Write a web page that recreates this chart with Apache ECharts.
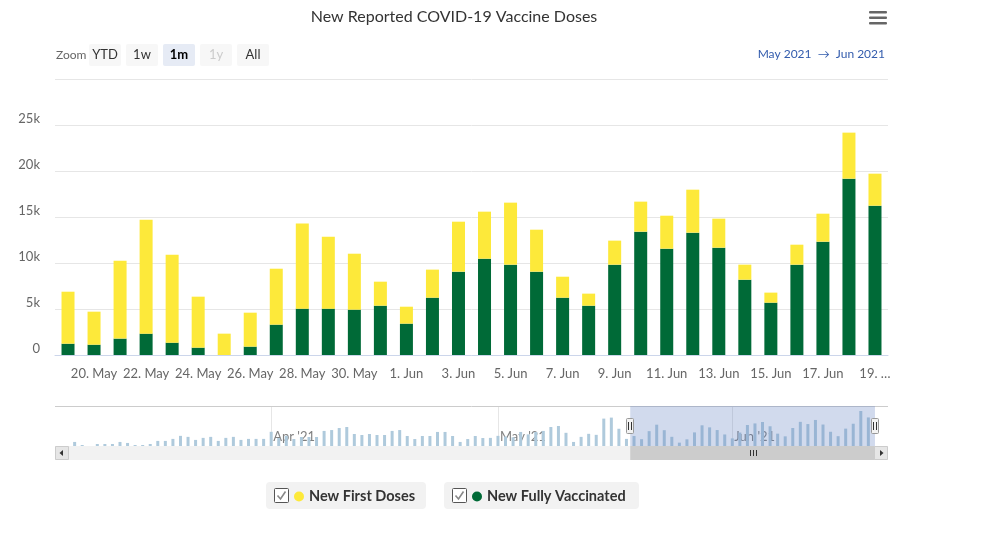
<!DOCTYPE html>
<html>
<head>
<meta charset="utf-8">
<script src="https://cdn.jsdelivr.net/npm/echarts@6/dist/echarts.min.js"></script>
<style>
  html, body { margin: 0; padding: 0; background: #fff; }
  #chart { width: 982px; height: 539px; }
</style>
</head>
<body>
<div id="chart"></div>
<script>
// main chart: one month shown (19 May - 19 Jun 2021)
const dates = [
  '2021-05-19', '2021-05-20', '2021-05-21', '2021-05-22', '2021-05-23', '2021-05-24',
  '2021-05-25', '2021-05-26', '2021-05-27', '2021-05-28', '2021-05-29', '2021-05-30',
  '2021-05-31', '2021-06-01', '2021-06-02', '2021-06-03', '2021-06-04', '2021-06-05',
  '2021-06-06', '2021-06-07', '2021-06-08', '2021-06-09', '2021-06-10', '2021-06-11',
  '2021-06-12', '2021-06-13', '2021-06-14', '2021-06-15', '2021-06-16', '2021-06-17',
  '2021-06-18', '2021-06-19'
];
const newFullyVaccinated = [
  1230, 1120, 1780, 2320, 1340, 800, 0, 910, 3300, 5040, 5040, 4930,
  5360, 3410, 6230, 9060, 10470, 9820, 9060, 6230, 5360, 9820, 13410, 11560,
  13300, 11670, 8190, 5690, 9820, 12320, 19170, 16230
];
const newFirstDoses = [
  5650, 3590, 8470, 12390, 9570, 5540, 2320, 3690, 6080, 9240, 7820, 6080,
  2610, 1840, 3050, 5430, 5110, 6740, 4560, 2280, 1310, 2610, 3260, 3580,
  4670, 3150, 1630, 1090, 2170, 3040, 5000, 3480
];

// navigator: daily totals before the shown month (6 Mar - 18 May 2021)
const navStart = '2021-03-06';
const navEarlierTotals = [
  2800, 700, 0, 1400, 1400, 1400, 2800, 2100, 700, 700, 1400, 3500, 3500,
  4900, 7000, 6300, 4200, 5600, 6300, 3500, 5600, 6300, 4200, 4900, 4900, 4900,
  9800, 5500, 7000, 4800, 6200, 6200, 6200, 10400, 11000, 12400, 13100, 8300,
  7600, 8300, 7600, 7600, 10400, 11000, 6900, 4800, 6900, 6900, 9700, 9700,
  6900, 2800, 4800, 6900, 5500, 5600,
  7000, 6500, 6000, 9700, 8000, 9700, 10400, 13100, 13800, 9100, 2800, 6300,
  8400, 7700, 18900, 19600, 11900, 4900
];

const yTicks = [0, 5000, 10000, 15000, 20000, 25000, 30000];
const months = ['Jan', 'Feb', 'Mar', 'Apr', 'May', 'Jun', 'Jul', 'Aug', 'Sep', 'Oct', 'Nov', 'Dec'];
const rangeButtons = ['YTD', '1w', '1m', '1y', 'All'];

const FONT = 'Lato, "Noto Sans", sans-serif';

function dayStr(d) {
  const m = String(d.getMonth() + 1).padStart(2, '0');
  const day = String(d.getDate()).padStart(2, '0');
  return d.getFullYear() + '-' + m + '-' + day;
}

// navigator series = earlier totals + totals of the shown month
const navData = [];
let cur = new Date(navStart + 'T00:00:00');
navEarlierTotals.forEach(v => {
  navData.push([dayStr(cur), v]);
  cur.setDate(cur.getDate() + 1);
});
dates.forEach((d, i) => {
  navData.push([d, newFullyVaccinated[i] + newFirstDoses[i]]);
});

const everyOther = (idx) => idx % 2 === 1;

const chart = echarts.init(document.getElementById('chart'));

const option = {
  animation: false,
  backgroundColor: '#fff',
  title: {
    text: 'New Reported COVID-19 Vaccine Doses',
    left: 449,
    top: 4,
    textAlign: 'center',
    textStyle: { fontFamily: FONT, fontSize: 16, fontWeight: 'normal', color: '#333' }
  },
  legend: [
    {
      data: ['New First Doses'],
      left: 294, top: 489, padding: 0,
      icon: 'circle', itemWidth: 10, itemHeight: 10,
      textStyle: { fontFamily: FONT, fontSize: 14.5, fontWeight: 'bold', color: '#333' }
    },
    {
      data: ['New Fully Vaccinated'],
      left: 472, top: 489, padding: 0,
      icon: 'circle', itemWidth: 10, itemHeight: 10,
      textStyle: { fontFamily: FONT, fontSize: 14.5, fontWeight: 'bold', color: '#333' }
    }
  ],
  grid: [
    { left: 55, right: 94, top: 79, bottom: 184 },
    { left: 55, right: 94, top: 406, height: 40 }
  ],
  xAxis: [
    {
      type: 'category',
      gridIndex: 0,
      data: dates,
      axisLine: { lineStyle: { color: '#ccd6eb' } },
      axisTick: { alignWithLabel: true, interval: everyOther, length: 10, lineStyle: { color: '#ccd6eb' } },
      axisLabel: {
        interval: everyOther,
        color: '#666',
        fontFamily: FONT,
        fontSize: 13,
        margin: 12,
        formatter: (val, idx) => {
          const d = new Date(val + 'T00:00:00');
          if (idx === dates.length - 1) return d.getDate() + '. \u2026';
          return d.getDate() + '. ' + months[d.getMonth()];
        }
      }
    },
    {
      type: 'time',
      gridIndex: 1,
      min: new Date(2021, 2, 3, 14, 24).getTime(),
      max: new Date(2021, 5, 21, 9, 36).getTime(),
      minInterval: 28 * 86400000,
      maxInterval: 31 * 86400000,
      axisLine: { show: false },
      axisTick: { show: false },
      splitLine: { show: true, showMinLine: false, showMaxLine: false, lineStyle: { color: '#e6e6e6' } },
      axisLabel: {
        inside: true,
        align: 'left',
        verticalAlign: 'bottom',
        margin: 3,
        padding: [0, 0, 0, 2],
        showMinLabel: false,
        showMaxLabel: false,
        color: '#808080',
        fontFamily: FONT,
        fontSize: 13,
        formatter: (val) => {
          const d = new Date(val);
          return months[d.getMonth()] + " '" + String(d.getFullYear()).slice(2);
        }
      }
    }
  ],
  yAxis: [
    {
      type: 'value',
      gridIndex: 0,
      min: yTicks[0],
      max: yTicks[yTicks.length - 1],
      interval: yTicks[1] - yTicks[0],
      axisLine: { show: false },
      axisTick: { show: false },
      splitLine: { lineStyle: { color: '#e6e6e6' } },
      axisLabel: {
        color: '#666',
        fontFamily: FONT,
        fontSize: 13,
        margin: 15,
        verticalAlign: 'bottom',
        formatter: (v) => {
          if (v === yTicks[yTicks.length - 1]) return '';
          return v === 0 ? '0' : (v / 1000) + 'k';
        }
      }
    },
    {
      type: 'value',
      gridIndex: 1,
      min: 0,
      max: 27600,
      show: false,
      splitLine: { show: false }
    }
  ],
  series: [
    {
      name: 'New Fully Vaccinated',
      type: 'bar',
      stack: 'doses',
      xAxisIndex: 0,
      yAxisIndex: 0,
      barWidth: 13,
      itemStyle: { color: '#006a37' },
      data: newFullyVaccinated
    },
    {
      name: 'New First Doses',
      type: 'bar',
      stack: 'doses',
      xAxisIndex: 0,
      yAxisIndex: 0,
      barWidth: 13,
      itemStyle: { color: '#fde93a' },
      data: newFirstDoses
    },
    {
      name: 'navigator',
      type: 'bar',
      xAxisIndex: 1,
      yAxisIndex: 1,
      barWidth: 3,
      silent: true,
      itemStyle: { color: '#afcadc' },
      data: navData
    }
  ]
};

chart.setOption(option);

// decorations: range selector, menu, navigator handles, scrollbar, legend boxes
const selFrom = chart.convertToPixel({ xAxisIndex: 1 }, new Date(2021, 4, 18, 12).getTime());
const selTo = chart.convertToPixel({ xAxisIndex: 1 }, new Date(2021, 5, 19, 21).getTime());

const g = [];

g.push({ type: 'text', style: { text: 'Zoom', x: 56, y: 55, fill: '#666', font: '12px ' + FONT, align: 'left', verticalAlign: 'middle' } });
rangeButtons.forEach((b, i) => {
  const x = 89 + i * 37;
  const active = b === '1m';
  const disabled = b === '1y';
  g.push({ type: 'rect', shape: { x: x, y: 44, width: 32, height: 22, r: 2 }, style: { fill: active ? '#e6ebf5' : '#f7f7f7' } });
  g.push({
    type: 'text',
    style: {
      text: b, x: x + 16, y: 55, align: 'center', verticalAlign: 'middle',
      fill: disabled ? '#cccccc' : (active ? '#000' : '#333'),
      font: (active ? 'bold ' : '') + '13px ' + FONT
    }
  });
});
g.push({ type: 'text', style: { text: 'May 2021  \u2192  Jun 2021', x: 885, y: 54, align: 'right', verticalAlign: 'middle', fill: '#335cad', font: '12px ' + FONT } });

[11, 16.5, 22].forEach(y => {
  g.push({ type: 'rect', shape: { x: 869, y: y, width: 18, height: 2.6, r: 1 }, style: { fill: '#666' } });
});

// navigator frame and selection
g.push({ type: 'line', shape: { x1: 55, y1: 406.5, x2: 888, y2: 406.5 }, style: { stroke: '#cccccc', lineWidth: 1 } });
g.push({ type: 'rect', z: 50, shape: { x: selFrom, y: 406, width: selTo - selFrom, height: 40 }, style: { fill: 'rgba(102,133,194,0.3)' } });
[selFrom, selTo].forEach(x => {
  g.push({ type: 'rect', z: 60, shape: { x: Math.round(x) - 3.5, y: 418.5, width: 7, height: 15, r: 1 }, style: { fill: '#f2f2f2', stroke: '#999', lineWidth: 1 } });
  g.push({ type: 'line', z: 61, shape: { x1: Math.round(x) - 1.5, y1: 422, x2: Math.round(x) - 1.5, y2: 430 }, style: { stroke: '#333', lineWidth: 1 } });
  g.push({ type: 'line', z: 61, shape: { x1: Math.round(x) + 1.5, y1: 422, x2: Math.round(x) + 1.5, y2: 430 }, style: { stroke: '#333', lineWidth: 1 } });
});

// scrollbar
g.push({ type: 'rect', shape: { x: 55, y: 446, width: 833, height: 14 }, style: { fill: '#f2f2f2' } });
g.push({ type: 'rect', shape: { x: selFrom, y: 446, width: selTo - selFrom, height: 14 }, style: { fill: '#cccccc' } });
const gripX = Math.round((selFrom + selTo) / 2);
[-3, 0, 3].forEach(dx => {
  g.push({ type: 'line', shape: { x1: gripX + dx + 0.5, y1: 450, x2: gripX + dx + 0.5, y2: 456 }, style: { stroke: '#333', lineWidth: 1 } });
});
g.push({ type: 'rect', shape: { x: 55.5, y: 446.5, width: 13, height: 13 }, style: { fill: '#e6e6e6', stroke: '#cccccc', lineWidth: 1 } });
g.push({ type: 'polygon', shape: { points: [[63, 450], [59.5, 453], [63, 456]] }, style: { fill: '#333' } });
g.push({ type: 'rect', shape: { x: 874.5, y: 446.5, width: 13, height: 13 }, style: { fill: '#e6e6e6', stroke: '#cccccc', lineWidth: 1 } });
g.push({ type: 'polygon', shape: { points: [[880, 450], [883.5, 453], [880, 456]] }, style: { fill: '#333' } });

// legend item boxes with checkboxes
[[266, 160, 274], [444, 195, 452]].forEach(([bx, bw, cx]) => {
  g.push({ type: 'rect', z: 1, shape: { x: bx, y: 482, width: bw, height: 27, r: 4 }, style: { fill: '#f2f2f2' } });
  g.push({ type: 'rect', z: 2, shape: { x: cx + 0.5, y: 488.5, width: 14, height: 14, r: 1 }, style: { fill: '#fff', stroke: '#555', lineWidth: 1 } });
  g.push({ type: 'polyline', z: 3, shape: { points: [[cx + 3.5, 495.5], [cx + 6.5, 499], [cx + 11.5, 491.5]] }, style: { stroke: '#888', lineWidth: 1.6, fill: null } });
});

chart.setOption({ graphic: g });

window.addEventListener('resize', () => {
  chart.resize();
});
</script>
</body>
</html>
